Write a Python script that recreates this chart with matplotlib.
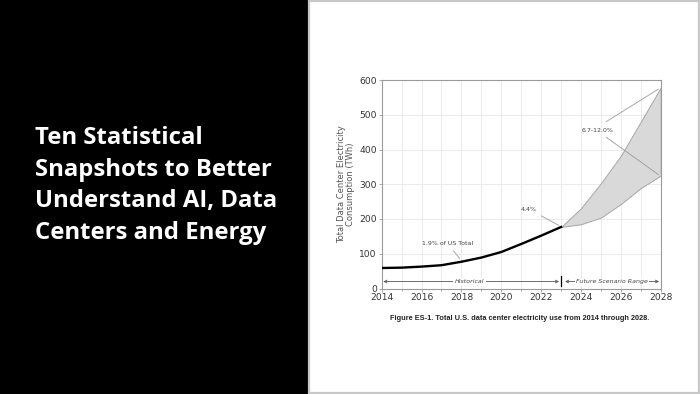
import matplotlib
matplotlib.use("Agg")
import matplotlib.pyplot as plt
from matplotlib.patches import Rectangle
from matplotlib.ticker import MultipleLocator

# data (TWh)
years_hist = [2014, 2015, 2016, 2017, 2018, 2019, 2020, 2021, 2022, 2023]
twh_hist = [59, 60, 63, 67, 77, 89, 105, 128, 152, 177]
years_future = [2023, 2024, 2025, 2026, 2027, 2028]
twh_high = [177, 231, 303, 382, 480, 578]
twh_low = [177, 185, 204, 243, 289, 325]

title_lines = ["Ten Statistical", "Snapshots to Better",
               "Understand AI, Data", "Centers and Energy"]
caption = "Figure ES-1. Total U.S. data center electricity use from 2014 through 2028."

W, H = 700, 394
fig = plt.figure(figsize=(7, 3.94), dpi=100, facecolor="black")

def px(x, y):
    return x / W, 1 - y / H

# white panel with grey frame on the right
fig.patches.append(Rectangle(px(308.5, 392.5), 390 / W, 392 / H, transform=fig.transFigure,
                             facecolor="white", edgecolor="#c8c8c8", lw=1.6, zorder=-5))

# title on the black side
baselines = [144.5, 176, 207.5, 239]
for line, yb in zip(title_lines, baselines):
    fig.text(*px(35, yb), line, color="white", fontsize=17.2, fontweight="bold",
             family="Open Sans", va="baseline", ha="left")

ax = fig.add_axes([381.7 / W, 1 - 288.5 / H, 279 / W, 208.5 / H])
ax.set_facecolor("white")

ax.fill_between(years_future, twh_low, twh_high, facecolor="#d9d9d9",
                edgecolor="#a6a6a6", lw=0.7, zorder=2)
ax.plot(years_hist, twh_hist, color="black", lw=1.7, zorder=3)

ax.set_xlim(2014, 2028)
ax.set_ylim(0, 600)
ax.xaxis.set_major_locator(MultipleLocator(2))
ax.xaxis.set_minor_locator(MultipleLocator(1))
ax.yaxis.set_major_locator(MultipleLocator(100))
ax.grid(which="both", color="#e8e8e8", lw=0.6, zorder=0)
ax.set_axisbelow(True)
for s in ax.spines.values():
    s.set_color("#9a9a9a")
    s.set_linewidth(0.8)
ax.tick_params(which="both", colors="#9a9a9a", labelcolor="#333333", labelsize=6.6,
               length=2, width=0.6, pad=1.5)
ax.tick_params(which="minor", length=1.5)
ax.set_ylabel("Total Data Center Electricity\nConsumption (TWh)", fontsize=6.0,
              color="#555555", labelpad=3, linespacing=1.0)

# annotations
ann = dict(fontsize=4.5, color="#444444", ha="center", va="center")
arr = dict(arrowstyle="-", color="#9a9a9a", lw=0.6)
ax.annotate("1.9% of US Total", xy=(2018, 80), xytext=(2017.3, 130), arrowprops=arr, **ann)
ax.annotate("4.4%", xy=(2023, 178), xytext=(2021.4, 228), arrowprops=arr, **ann)
ax.annotate("6.7-12.0%", xy=(2028, 578), xytext=(2024.85, 456), **ann)
ax.annotate("", xy=(2028, 578), xytext=(2025.15, 476), arrowprops=arr)
ax.annotate("", xy=(2028, 323), xytext=(2025.15, 440), arrowprops=arr)

# period ranges along the bottom
rng = dict(arrowstyle="<->", color="#555555", lw=0.6, mutation_scale=5, shrinkA=0, shrinkB=0)
ax.annotate("", xy=(2014.08, 20), xytext=(2022.9, 20), arrowprops=rng)
ax.annotate("", xy=(2023.2, 20), xytext=(2027.92, 20), arrowprops=rng)
box = dict(facecolor="white", edgecolor="none", pad=1)
ax.text(2018.4, 20, "Historical", fontsize=4.5, style="italic", color="#444444",
        ha="center", va="center", bbox=box, zorder=4)
ax.text(2025.55, 20, "Future Scenario Range", fontsize=4.5, style="italic",
        color="#444444", ha="center", va="center", bbox=box, zorder=4)
ax.plot([2023, 2023], [8, 35], color="black", lw=0.9, zorder=4)

fig.text(*px(520, 319), caption, fontsize=5.3, fontweight="bold",
         family="Liberation Sans", color="#222222", ha="center", va="center")

fig.savefig("out.png", dpi=100, facecolor="black")
